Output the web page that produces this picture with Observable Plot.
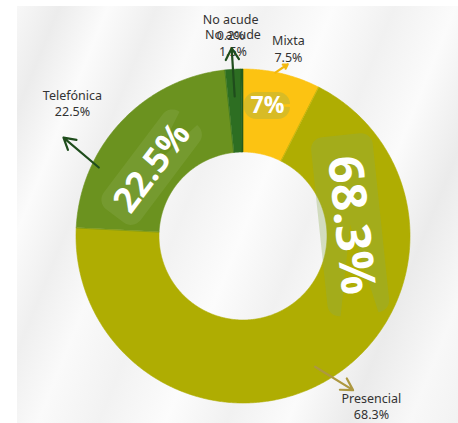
<!DOCTYPE html>
<html>
<head>
<meta charset="utf-8">
<script src="https://cdn.jsdelivr.net/npm/d3@7"></script>
<script src="https://cdn.jsdelivr.net/npm/@observablehq/plot@0.6"></script>
<style>
  html, body { margin: 0; padding: 0; background: #ffffff; }
  #wrap { position: relative; width: 458px; height: 423px; overflow: hidden; }
  #bg {
    position: absolute; left: 17px; top: 6px; right: 0; bottom: 0;
    background-image: linear-gradient(112deg,
      #f7f7f7 0%, #ececec 7%, #fbfbfb 15%, #efefef 23%, #fafafa 31%,
      #f2f2f2 41%, #fcfcfc 52%, #f1f1f1 62%, #fbfbfb 72%, #ebebeb 82%,
      #f8f8f8 92%, #f2f2f2 100%);
  }
  #chart { position: absolute; left: 0; top: 0; }
</style>
</head>
<body>
<div id="wrap"><div id="bg"></div><div id="chart"></div></div>
<script>
// Modalidad de atención (%)
const categories = ["Mixta", "Presencial", "Telefónica", "No acude", "No acude"];
const values = [7.5, 68.3, 22.5, 1.5, 0.2];
const insideLabels = ["7%", "68.3%", "22.5%", null, null];

// Palette per category
const sliceColors = ["#fcc312", "#afad02", "#6b921f", "#2d6e22", "#245c1c"];
const arrowColors = ["#f3b80e", "#ad9840", "#1f4d1c", "#1f4d1c", null];

// Geometry of the ring (pixels)
const W = 458, H = 423;
const CX = 243, CY = 236, R = 167, INNER = 84 / 167;

const deg = Math.PI / 180;
const px = (a, r) => r * Math.sin(a * deg);
const py = (a, r) => -r * Math.cos(a * deg);

// Ring segments: outer edge (x1,y1) and inner edge (x2,y2)
const total = d3.sum(values);
const slicePts = [];
let acc = 0;
values.forEach((v, i) => {
  const a0 = acc / total * 360, a1 = (acc + v) / total * 360;
  const n = Math.max(2, Math.ceil((a1 - a0) / 0.5));
  for (let k = 0; k <= n; k++) {
    const a = a0 + (a1 - a0) * k / n;
    slicePts.push({id: i, color: sliceColors[i],
      xo: px(a, 1), yo: py(a, 1), xi: px(a, INNER), yi: py(a, INNER)});
  }
  acc += v;
});

// Placement of outside labels and leader arrows (angle in degrees, radius in ring units)
const outsideLayout = [
  {a: 13.4, r: 1.16, arrow: [11, 1.0, 14.4, 1.065]},
  {a: 142.9, r: 1.27, arrow: [151.2, 0.89, 144.5, 1.13]},
  {a: 308, r: 1.30, arrow: [295.5, 0.96, 298.8, 1.23]},
  {a: 356.9, r: 1.166, arrow: [356.4, 0.84, 356.4, 1.13]},
  {a: 356.5, r: 1.258, arrow: null}
];
const fmt = d3.format(".1f");
const outside = categories.map((c, i) => ({
  text: `${c}\n${fmt(values[i])}%`,
  x: px(outsideLayout[i].a, outsideLayout[i].r),
  y: py(outsideLayout[i].a, outsideLayout[i].r)
}));
const arrows = categories.map((c, i) => {
  const ar = outsideLayout[i].arrow;
  if (!ar) return null;
  return {color: arrowColors[i],
    x1: px(ar[0], ar[1]), y1: py(ar[0], ar[1]),
    x2: px(ar[2], ar[3]), y2: py(ar[2], ar[3])};
}).filter(d => d);

// Placement of the large inside labels
const insideLayout = [
  {a: 10.4, r: 0.795, rot: 0, size: 23, w: 46, h: 27},
  {a: 84, r: 0.645, rot: 84, size: 48, w: 180, h: 62},
  {a: 307, r: 0.685, rot: -53, size: 35, w: 122, h: 46},
  null, null
];
const inside = [];
const badgePts = [];
insideLabels.forEach((t, i) => {
  const L = insideLayout[i];
  if (!t || !L) return;
  const x = px(L.a, L.r), y = py(L.a, L.r);
  inside.push({text: t, x, y, rot: L.rot, size: L.size});
  // rounded badge behind the label
  const hw = L.w / 2 / R, hh = L.h / 2 / R, rad = Math.min(12, L.h / 2) / R;
  const cosr = Math.cos(L.rot * deg), sinr = Math.sin(L.rot * deg);
  const corners = [[hw - rad, hh - rad, 0], [-(hw - rad), hh - rad, 90],
                   [-(hw - rad), -(hh - rad), 180], [hw - rad, -(hh - rad), 270]];
  corners.forEach(([ox, oy, s]) => {
    for (let k = 0; k <= 8; k++) {
      const t2 = (s + 90 * k / 8) * deg;
      const lx = ox + rad * Math.cos(t2), ly = oy + rad * Math.sin(t2);
      badgePts.push({id: i, x1: x + lx * cosr - ly * sinr, y1: y + lx * sinr + ly * cosr, x2: x, y2: y});
    }
  });
});

const chart = Plot.plot({
  width: W, height: H,
  margin: 0,
  style: {background: "transparent", overflow: "visible"},
  x: {domain: [-CX / R, (W - CX) / R], range: [0, W], axis: null},
  y: {domain: [-CY / R, (H - CY) / R], range: [0, H], axis: null},
  color: {type: "identity"},
  marks: [
    Plot.area(slicePts, {x1: "xo", y1: "yo", x2: "xi", y2: "yi", z: "id",
      fill: "color", stroke: "color", strokeWidth: 0.6, curve: "linear"}),
    Plot.area(badgePts, {x1: "x1", y1: "y1", x2: "x2", y2: "y2", z: "id",
      fill: "rgb(140,172,80)", fillOpacity: 0.32, curve: "linear"}),
    Plot.text(inside, {x: "x", y: "y", text: "text", rotate: "rot", fontSize: "size",
      fill: "white", fontWeight: 700, fontFamily: "'Open Sans', sans-serif",
      textAnchor: "middle", lineAnchor: "middle"}),
    Plot.text(outside, {x: "x", y: "y", text: "text", fontSize: 12.5, lineHeight: 1.32,
      fill: "#333333", fontFamily: "'Noto Sans', 'Open Sans', sans-serif",
      textAnchor: "middle", lineAnchor: "middle"}),
    Plot.arrow(arrows, {x1: "x1", y1: "y1", x2: "x2", y2: "y2", stroke: "color",
      strokeWidth: 2.2, headLength: 9})
  ]
});
document.getElementById("chart").appendChild(chart);
</script>
</body>
</html>
